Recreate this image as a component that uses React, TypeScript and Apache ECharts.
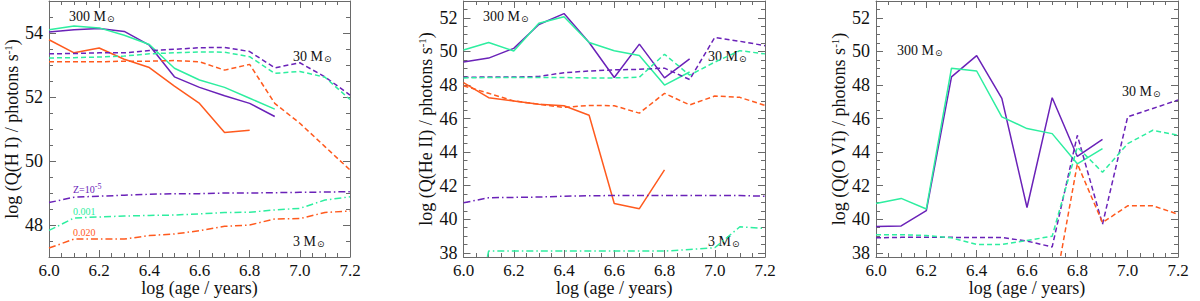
import React, { useEffect, useRef } from "react";
import * as echarts from "echarts";

// ---------------- data ----------------
const AGES = [6.0, 6.1, 6.2, 6.3, 6.4, 6.5, 6.6, 6.7, 6.8, 6.9, 7.0, 7.1, 7.2];

const X_TICKS = [6.0, 6.2, 6.4, 6.6, 6.8, 7.0, 7.2];
const Y_TICKS_HI = [48, 50, 52, 54];
const Y_TICKS_HEII = [38, 40, 42, 44, 46, 48, 50, 52];
const Y_TICKS_OVI = [38, 40, 42, 44, 46, 48, 50, 52];

// Q(H I)
const HI_300_Z5 = [54.03, 54.1, 54.14, 54.05, 53.62, 52.63, 52.3, 52.04, 51.8, 51.39];
const HI_300_Z001 = [54.1, 54.22, 54.16, 53.93, 53.64, 52.9, 52.53, 52.3, 51.96, 51.62];
const HI_300_Z020 = [53.79, 53.38, 53.53, 53.18, 52.92, 52.34, 51.8, 50.89, 50.96];
const HI_30_Z5 = [53.35, 53.36, 53.38, 53.38, 53.45, 53.49, 53.54, 53.55, 53.42, 52.91, 53.07, 52.63, 52.06];
const HI_30_Z001 = [53.22, 53.23, 53.25, 53.28, 53.35, 53.38, 53.41, 53.4, 53.26, 52.74, 52.8, 52.62, 51.92];
const HI_30_Z020 = [53.1, 53.1, 53.1, 53.12, 53.12, 53.14, 53.1, 52.84, 53.02, 51.8, 51.18, 50.45, 49.72];
const HI_3_Z5 = [48.7, 48.87, 48.9, 48.93, 48.96, 48.98, 48.98, 49.0, 49.0, 49.01, 49.02, 49.03, 49.04];
const HI_3_Z001 = [47.83, 48.22, 48.25, 48.28, 48.3, 48.31, 48.35, 48.39, 48.4, 48.47, 48.52, 48.78, 48.88];
const HI_3_Z020 = [47.28, 47.56, 47.56, 47.56, 47.67, 47.72, 47.82, 47.96, 48.0, 48.19, 48.2, 48.39, 48.44];

// Q(He II)
const HE_300_Z5 = [49.36, 49.6, 50.18, 51.6, 52.25, 50.53, 48.44, 50.43, 48.42, 49.55];
const HE_300_Z001 = [50.08, 50.53, 50.02, 51.67, 52.06, 50.53, 50.04, 49.75, 47.99, 48.77];
const HE_300_Z020 = [48.14, 47.24, 47.05, 46.85, 46.76, 46.19, 40.94, 40.63, 42.94];
const HE_30_Z5 = [48.46, 48.47, 48.47, 48.5, 48.73, 48.83, 48.9, 48.93, 49.0, 48.32, 50.83, 50.6, 50.34];
const HE_30_Z001 = [48.42, 48.44, 48.44, 48.44, 48.44, 48.42, 48.42, 48.46, 49.83, 48.58, 49.36, 50.04, 49.85];
const HE_30_Z020 = [47.95, 47.5, 47.05, 46.85, 46.66, 46.78, 46.76, 46.32, 47.5, 46.81, 47.34, 47.26, 46.78];
const HE_3_Z5 = [40.98, 41.28, 41.3, 41.32, 41.37, 41.4, 41.41, 41.41, 41.41, 41.41, 41.41, 41.41, 41.37];
const HE_3_Z001 = [31.0, 38.1, 38.1, 38.1, 38.1, 38.1, 38.1, 38.1, 38.1, 38.2, 38.3, 39.55, 39.45];

// Q(O VI)
const OVI_300_Z5 = [39.57, 39.6, 40.51, 48.48, 49.75, 47.2, 40.7, 47.24, 43.74, 44.76];
const OVI_300_Z001 = [40.94, 41.24, 40.61, 49.0, 48.83, 46.1, 45.4, 45.1, 43.3, 44.2];
const OVI_30_Z5 = [38.89, 38.92, 38.92, 38.92, 38.91, 38.91, 38.7, 38.35, 45.0, 39.7, 46.1, 46.6, 47.1];
const OVI_30_Z001 = [39.08, 39.08, 39.03, 38.89, 38.5, 38.5, 38.73, 38.99, 44.3, 42.8, 44.5, 45.3, 45.0];
const OVI_30_Z020 = [null, null, null, null, null, null, null, 35.0, 43.3, 39.8, 40.8, 40.8, 40.3];

// ---------------- style ----------------
const PURPLE = "#6a22b8";
const GREEN = "#2eeea0";
const ORANGE = "#ff5a1e";
const AXIS = "#6a6a6a";
const TEXT = "#111111";
const FONT = "'Liberation Serif', 'Times New Roman', serif";

const SOLID = "solid";
const DASHED = [5, 3];
const DASHDOT = [7, 3, 1.5, 3];

const PANELS = [
  { left: 49, width: 301, ymin: 47, ymax: 55, yticks: Y_TICKS_HI, title: "log (Q(H I) / photons s{sup|-1})" },
  { left: 463.5, width: 301.5, ymin: 37.75, ymax: 53, yticks: Y_TICKS_HEII, title: "log (Q(He II) / photons s{sup|-1})" },
  { left: 876, width: 302, ymin: 37.75, ymax: 53, yticks: Y_TICKS_OVI, title: "log (Q(O VI) / photons s{sup|-1})" },
];
const TOP = 1;
const HEIGHT = 256;

function minorValues(min: number, max: number, step: number, majors: number[]) {
  const out: number[] = [];
  const start = Math.ceil(min / step - 1e-9);
  const end = Math.floor(max / step + 1e-9);
  for (let k = start; k <= end; k++) {
    const v = Math.round(k * step * 1000) / 1000;
    if (!majors.some((m) => Math.abs(m - v) < 1e-6)) out.push(v);
  }
  return out;
}

function pairs(values: (number | null)[]) {
  const out: [number, number][] = [];
  values.forEach((v, i) => {
    if (v !== null && v !== undefined) out.push([AGES[i], v]);
  });
  return out;
}

const nameRich = {
  sup: { fontFamily: FONT, fontSize: 11, color: TEXT, verticalAlign: "top", padding: [0, 0, 8, 0] },
};

function buildXAxes(g: number) {
  const minors = minorValues(6, 7.2, 0.05, X_TICKS);
  const base = {
    type: "value",
    gridIndex: g,
    min: 6,
    max: 7.2,
    splitLine: { show: false },
  };
  return [
    {
      ...base,
      position: "bottom",
      axisLine: { show: true, lineStyle: { color: AXIS, width: 1 } },
      axisTick: { show: true, inside: true, length: 7, customValues: X_TICKS, lineStyle: { color: AXIS } },
      axisLabel: {
        show: true,
        customValues: X_TICKS,
        formatter: (v: number) => v.toFixed(1),
        color: TEXT,
        fontFamily: FONT,
        fontSize: 17,
        margin: 5,
      },
      name: "log (age / years)",
      nameLocation: "middle",
      nameGap: 22,
      nameMoveOverlap: false,
      nameTextStyle: { fontFamily: FONT, fontSize: 18, color: TEXT },
    },
    {
      ...base,
      position: "bottom",
      axisLine: { show: false },
      axisTick: { show: true, inside: true, length: 4, customValues: minors, lineStyle: { color: AXIS } },
      axisLabel: { show: false },
    },
    {
      ...base,
      position: "top",
      axisLine: { show: true, lineStyle: { color: AXIS, width: 1 } },
      axisTick: { show: true, inside: true, length: 7, customValues: X_TICKS, lineStyle: { color: AXIS } },
      axisLabel: { show: false },
    },
    {
      ...base,
      position: "top",
      axisLine: { show: false },
      axisTick: { show: true, inside: true, length: 4, customValues: minors, lineStyle: { color: AXIS } },
      axisLabel: { show: false },
    },
  ];
}

function buildYAxes(g: number) {
  const p = PANELS[g];
  const minors = minorValues(p.ymin, p.ymax, 0.5, p.yticks);
  const base = {
    type: "value",
    gridIndex: g,
    min: p.ymin,
    max: p.ymax,
    splitLine: { show: false },
  };
  return [
    {
      ...base,
      position: "left",
      axisLine: { show: true, lineStyle: { color: AXIS, width: 1 } },
      axisTick: { show: true, inside: true, length: 7, customValues: p.yticks, lineStyle: { color: AXIS } },
      axisLabel: {
        show: true,
        customValues: p.yticks,
        color: TEXT,
        fontFamily: FONT,
        fontSize: 18,
        margin: 6,
      },
      name: p.title,
      nameLocation: "middle",
      nameGap: 28,
      nameTextStyle: { fontFamily: FONT, fontSize: 18, color: TEXT, rich: nameRich },
    },
    {
      ...base,
      position: "left",
      axisLine: { show: false },
      axisTick: { show: true, inside: true, length: 4, customValues: minors, lineStyle: { color: AXIS } },
      axisLabel: { show: false },
    },
    {
      ...base,
      position: "right",
      axisLine: { show: true, lineStyle: { color: AXIS, width: 1 } },
      axisTick: { show: true, inside: true, length: 7, customValues: p.yticks, lineStyle: { color: AXIS } },
      axisLabel: { show: false },
    },
    {
      ...base,
      position: "right",
      axisLine: { show: false },
      axisTick: { show: true, inside: true, length: 4, customValues: minors, lineStyle: { color: AXIS } },
      axisLabel: { show: false },
    },
  ];
}

function line(g: number, values: (number | null)[], color: string, dash: any, name: string) {
  return {
    type: "line",
    name,
    xAxisIndex: g * 4,
    yAxisIndex: g * 4,
    data: pairs(values),
    symbol: "none",
    clip: true,
    lineStyle: { color, width: 1.5, type: dash },
    silent: true,
  };
}

function label(x: number, y: number, text: string, color = TEXT, size = 14) {
  return {
    type: "text",
    x,
    y,
    silent: true,
    style: {
      text,
      fill: color,
      fontFamily: FONT,
      fontSize: size,
      verticalAlign: "middle",
      rich: {
        sub: { fontFamily: "'DejaVu Sans', sans-serif", fontSize: 9, fill: color, verticalAlign: "bottom", padding: [6, 0, 0, 1] },
        sup: { fontFamily: FONT, fontSize: 8, fill: color, verticalAlign: "top", padding: [0, 0, 5, 0] },
      },
    },
  };
}

export default function App() {
  const ref = useRef<HTMLDivElement>(null);
  useEffect(() => {
    if (!ref.current) return;
    const chart = echarts.init(ref.current, undefined, { renderer: "svg" });
    const grid = PANELS.map((p) => ({
      left: p.left,
      top: TOP,
      width: p.width,
      height: HEIGHT,
      containLabel: false,
      outerBoundsMode: "none",
    }));
    const xAxis: any[] = [];
    const yAxis: any[] = [];
    PANELS.forEach((_, g) => {
      xAxis.push(...buildXAxes(g));
      yAxis.push(...buildYAxes(g));
    });
    const series = [
      line(0, HI_300_Z5, PURPLE, SOLID, "HI 300 Z=1e-5"),
      line(0, HI_300_Z001, GREEN, SOLID, "HI 300 Z=0.001"),
      line(0, HI_300_Z020, ORANGE, SOLID, "HI 300 Z=0.020"),
      line(0, HI_30_Z5, PURPLE, DASHED, "HI 30 Z=1e-5"),
      line(0, HI_30_Z001, GREEN, DASHED, "HI 30 Z=0.001"),
      line(0, HI_30_Z020, ORANGE, DASHED, "HI 30 Z=0.020"),
      line(0, HI_3_Z5, PURPLE, DASHDOT, "HI 3 Z=1e-5"),
      line(0, HI_3_Z001, GREEN, DASHDOT, "HI 3 Z=0.001"),
      line(0, HI_3_Z020, ORANGE, DASHDOT, "HI 3 Z=0.020"),

      line(1, HE_300_Z5, PURPLE, SOLID, "HeII 300 Z=1e-5"),
      line(1, HE_300_Z001, GREEN, SOLID, "HeII 300 Z=0.001"),
      line(1, HE_300_Z020, ORANGE, SOLID, "HeII 300 Z=0.020"),
      line(1, HE_30_Z5, PURPLE, DASHED, "HeII 30 Z=1e-5"),
      line(1, HE_30_Z001, GREEN, DASHED, "HeII 30 Z=0.001"),
      line(1, HE_30_Z020, ORANGE, DASHED, "HeII 30 Z=0.020"),
      line(1, HE_3_Z5, PURPLE, DASHDOT, "HeII 3 Z=1e-5"),
      line(1, HE_3_Z001, GREEN, DASHDOT, "HeII 3 Z=0.001"),

      line(2, OVI_300_Z5, PURPLE, SOLID, "OVI 300 Z=1e-5"),
      line(2, OVI_300_Z001, GREEN, SOLID, "OVI 300 Z=0.001"),
      line(2, OVI_30_Z5, PURPLE, DASHED, "OVI 30 Z=1e-5"),
      line(2, OVI_30_Z001, GREEN, DASHED, "OVI 30 Z=0.001"),
      line(2, OVI_30_Z020, ORANGE, DASHED, "OVI 30 Z=0.020"),
    ];
    const graphic = [
      label(69, 16, "300 M{sub|⊙}"),
      label(293, 56, "30 M{sub|⊙}"),
      label(293, 241, "3 M{sub|⊙}"),
      label(73, 189, "Z=10{sup|-5}", PURPLE, 10),
      label(73, 211, "0.001", GREEN, 10),
      label(73, 232, "0.020", ORANGE, 10),
      label(483, 16, "300 M{sub|⊙}"),
      label(708, 56, "30 M{sub|⊙}"),
      label(708, 241, "3 M{sub|⊙}"),
      label(897, 50, "300 M{sub|⊙}"),
      label(1122, 91, "30 M{sub|⊙}"),
    ];
    chart.setOption({
      animation: false,
      backgroundColor: "#ffffff",
      grid,
      xAxis,
      yAxis,
      series,
      graphic,
    });
    return () => chart.dispose();
  }, []);
  return (
    <div
      ref={ref}
      style={{ position: "absolute", left: 0, top: 0, width: 1200, height: 301 }}
    />
  );
}
